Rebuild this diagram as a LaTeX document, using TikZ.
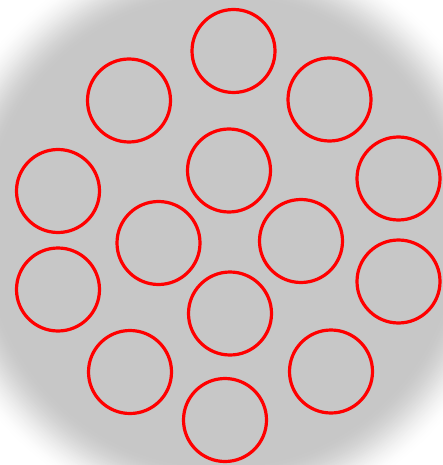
\documentclass[tikz,border=0pt]{standalone}
\tikzset{
  ring/.style={circle, draw=red, line width=3.2pt, minimum size=83pt, inner sep=0pt}
}
\begin{document}
\begin{tikzpicture}[x=1pt, y=-1pt]
\useasboundingbox (0,0) rectangle (443,465);
\begin{scope}
\clip (0,0) rectangle (443,465);
\fill[white] (0,0) rectangle (443,465);
\foreach \i in {0,...,60} {
  \pgfmathsetmacro\t{\i/60}
  \pgfmathsetmacro\g{22*(3*\t*\t-2*\t*\t*\t)}
  \pgfmathsetmacro\r{293-\i}
  \fill[black!\g] (221,232) circle (\r);
}
\end{scope}
\node[ring] (c1) at (233.5,51) {};
\node[ring] (c2) at (129,100.5) {};
\node[ring] (c3) at (329.5,99.5) {};
\node[ring] (c4) at (229,170.5) {};
\node[ring] (c5) at (398.5,178.5) {};
\node[ring] (c6) at (58,191) {};
\node[ring] (c7) at (158.5,243) {};
\node[ring] (c8) at (301,241) {};
\node[ring] (c9) at (398.5,281.5) {};
\node[ring] (c10) at (58,289.5) {};
\node[ring] (c11) at (230,313.5) {};
\node[ring] (c12) at (130,372) {};
\node[ring] (c13) at (331,371.5) {};
\node[ring] (c14) at (225,420) {};
\end{tikzpicture}
\end{document}
